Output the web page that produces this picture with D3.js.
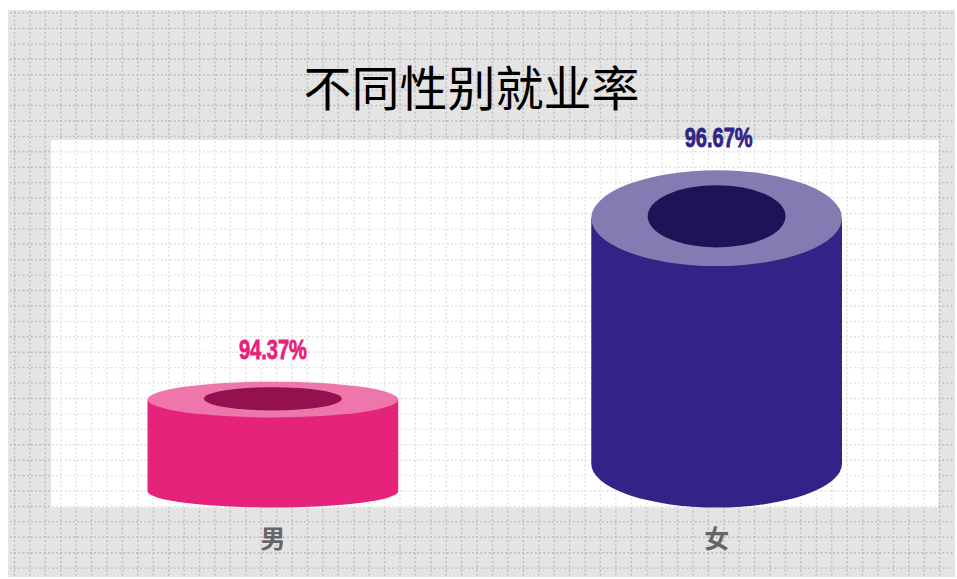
<!DOCTYPE html>
<html><head><meta charset="utf-8">
<script src="https://cdn.jsdelivr.net/npm/d3@7/dist/d3.min.js"></script>
<style>html,body{margin:0;padding:0;background:#fff}svg{display:block}</style>
</head><body><div id="c"></div>
<script>
const title = "不同性别就业率";
const categories = ["男", "女"];
const values = [94.37, 96.67];
const valueLabels = ["94.37%", "96.67%"];
const sideColors = ["#e5237a", "#322486"];
const capColors = ["#ef76aa", "#857bb3"];
const holeColors = ["#92114e", "#1e1357"];
const yDomain = [93, 97];

const W = 957, H = 579;
const svg = d3.select("#c").append("svg").attr("width", W).attr("height", H);
const plot = {l: 51, r: 938.5, t: 140, b: 507.5};
const x = d3.scaleBand().domain(categories).range([plot.l, plot.r]);
const y = d3.scaleLinear().domain(yDomain).range([plot.b, plot.t]);

svg.append("rect").attr("x", 8).attr("y", 10).attr("width", 947).attr("height", 567).attr("fill", "#e4e4e4");

// dotted background grid, darker on the gray frame, lighter on the white plot
const step = 15.42;
const gx = d3.range(14.5, 955, step), gy = d3.range(13, 577, step);
const defs = svg.append("defs");
defs.append("clipPath").attr("id", "inPlot").append("rect")
  .attr("x", plot.l).attr("y", plot.t).attr("width", plot.r - plot.l).attr("height", plot.b - plot.t);
const drawGrid = (g, color) => {
  g.selectAll("line.h").data(gy).join("line").attr("class", "h")
    .attr("x1", 10).attr("x2", 955).attr("y1", d => d).attr("y2", d => d);
  g.selectAll("line.v").data(gx).join("line").attr("class", "v")
    .attr("x1", d => d).attr("x2", d => d).attr("y1", 11).attr("y2", 577);
  g.selectAll("line").attr("stroke", color).attr("stroke-width", 1.4).attr("stroke-dasharray", "1.8 2.4");
};
drawGrid(svg.append("g"), "#bababa");
svg.append("rect").attr("x", plot.l).attr("y", plot.t).attr("width", plot.r - plot.l).attr("height", plot.b - plot.t).attr("fill", "#fff");
drawGrid(svg.append("g").attr("clip-path", "url(#inPlot)"), "#e0e0e0");

// title
svg.append("text").attr("x", 471.5).attr("y", 106).attr("text-anchor", "middle")
  .attr("font-family", "'Noto Sans CJK SC'").attr("font-size", 48).attr("fill", "#000").text(title);

// hollow cylinders
const rx = x.bandwidth() * 0.2825;
const ringRatio = 0.55;
const bars = svg.append("g").selectAll("g").data(values).join("g")
  .attr("transform", (d, i) => `translate(${x(categories[i]) + x.bandwidth() / 2},0)`);
bars.each(function (d, i) {
  const g = d3.select(this);
  const top = y(d), h = plot.b - top;
  const ryTop = h * 0.142, ryBot = h * 0.13, hole = ryTop * 0.65;
  const cy = top + ryTop, by = plot.b - ryBot;
  g.append("path").attr("fill", sideColors[i])
    .attr("d", `M${-rx},${cy}L${-rx},${by}A${rx},${ryBot} 0 0 0 ${rx},${by}L${rx},${cy}Z`);
  g.append("ellipse").attr("cy", cy).attr("rx", rx).attr("ry", ryTop).attr("fill", capColors[i]);
  g.append("ellipse").attr("cy", cy - ryTop * 0.04).attr("rx", rx * ringRatio).attr("ry", hole).attr("fill", holeColors[i]);
  g.append("text").attr("text-anchor", "middle").attr("y", top - 23).attr("x", i ? 2 : 0)
    .attr("font-family", "'Liberation Sans'").attr("font-weight", "bold")
    .attr("font-size", 27).attr("fill", sideColors[i]).attr("stroke", sideColors[i]).attr("stroke-width", 0.8)
    .attr("textLength", 68).attr("lengthAdjust", "spacingAndGlyphs")
    .text(valueLabels[i]);
});

// category axis
const axis = svg.append("g").attr("transform", `translate(0,${plot.b})`)
  .call(d3.axisBottom(x).tickSize(0).tickPadding(23));
axis.select(".domain").remove();
axis.selectAll("text").attr("font-family", "'Noto Sans CJK SC'").attr("font-weight", "bold")
  .attr("font-size", 25).attr("fill", "#666");
</script></body></html>
